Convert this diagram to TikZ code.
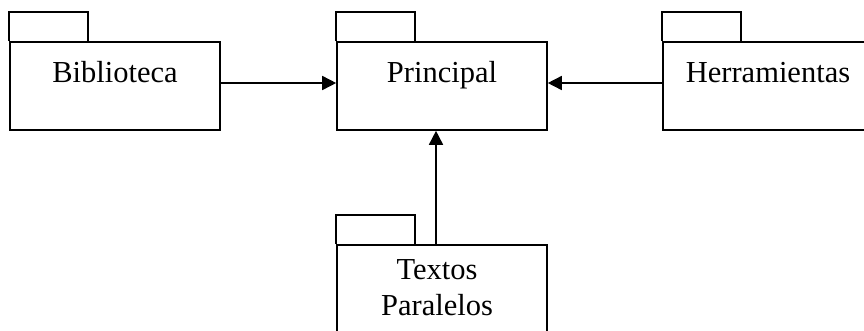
\documentclass[tikz,border=0pt]{standalone}
\usepackage{fontspec}
\setmainfont{Liberation Serif}
\usetikzlibrary{arrows.meta,calc}
\tikzset{
  pkgbody/.style={draw, line width=1.6pt, minimum width=210pt, minimum height=88pt, inner sep=0pt},
  pkgtab/.style={draw, line width=1.6pt},
  pkgname/.style={anchor=base, inner sep=0pt, font=\fontsize{30.5}{36.5}\selectfont, align=center},
  dep/.style={line width=1.6pt, -{Triangle[length=14pt,width=14pt]}}
}
\begin{document}
\begin{tikzpicture}[x=1pt,y=-1pt]
\useasboundingbox (0,0) rectangle (864,330);

% package bodies
\node[pkgbody] (bib) at (115,86) {};
\node[pkgbody] (pri) at (442,86) {};
\node[pkgbody] (her) at (768,86) {};
\node[pkgbody] (tex) at (442,289) {};

% package tabs on top of each body
\foreach \p in {bib,pri,her,tex}
  \draw[pkgtab] (\p.north west) -- ++(0,-29) -- ++(79,0) -- ++(0,29);

% package names
\node[pkgname] (bibt) at (115,82) {Biblioteca};
\node[pkgname] (prit) at (442,82) {Principal};
\node[pkgname] (hert) at (768,82) {Herramientas};
\node[pkgname, anchor=north] (text) at (437,259) {Textos\\Paralelos};

% dependencies
\coordinate (pin) at ($(pri.south)+(-6,0)$);
\draw[dep] (bib.east |- 0,83) -- (pri.west |- 0,83);
\draw[dep] (her.west |- 0,83) -- (pri.east |- 0,83);
\draw[dep] (tex.north -| pin) -- (pin);
\end{tikzpicture}
\end{document}
